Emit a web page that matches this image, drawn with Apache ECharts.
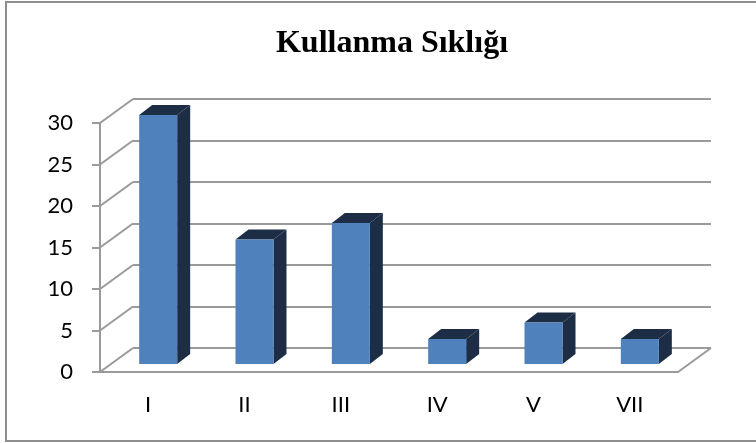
<!DOCTYPE html>
<html>
<head>
<meta charset="utf-8">
<script src="https://cdn.jsdelivr.net/npm/echarts@6/dist/echarts.min.js"></script>
<style>
  html, body { margin: 0; padding: 0; background: #fff; }
  #main { width: 756px; height: 443px; }
</style>
</head>
<body>
<div id="main"></div>
<script>
const categories = ['I', 'II', 'III', 'IV', 'V', 'VII'];
const values = [30, 15, 17, 3, 5, 3];
const tickValues = [0, 5, 10, 15, 20, 25, 30];

// depth of the 3d box (back wall offset) and bar placement inside it
const DX = 33, DY = -24;
const BAR_OFF_X = 10, BAR_OFF_Y = -8;
const BAR_DX = 13, BAR_DY = -10;
const BAR_W = 38;
const lineColor = '#9a9a9a';

var myChart = echarts.init(document.getElementById('main'));

function wallItem(params, api)
{
    var v = api.value(0);
    var cs = params.coordSys;
    var p = api.coord([categories[0], v]);
    var y = p[1];
    var children = [{
        type: 'line',
        shape: { x1: cs.x, y1: y, x2: cs.x + DX, y2: y + DY },
        style: { stroke: lineColor, lineWidth: 2 }
    }];
    if (v === 0) {
        // right edge of the floor
        children.push({
            type: 'line',
            shape: { x1: cs.x + cs.width, y1: y, x2: cs.x + cs.width + DX, y2: y + DY },
            style: { stroke: lineColor, lineWidth: 2 }
        });
    }
    return { type: 'group', children: children };
}

function barItem(params, api)
{
    var cat = api.value(0);
    var top = api.coord([cat, api.value(1)]);
    var base = api.coord([cat, 0]);
    var x0 = top[0] - BAR_W / 2 + BAR_OFF_X;
    var x1 = x0 + BAR_W;
    var yt = top[1] + BAR_OFF_Y;
    var yb = base[1] + BAR_OFF_Y;
    var dark = '#1d2d45';
    return {
        type: 'group',
        children: [
            {
                type: 'polygon',
                shape: { points: [[x1, yt], [x1 + BAR_DX, yt + BAR_DY], [x1 + BAR_DX, yb + BAR_DY], [x1, yb]] },
                style: { fill: dark }
            },
            {
                type: 'polygon',
                shape: { points: [[x0, yt], [x0 + BAR_DX, yt + BAR_DY], [x1 + BAR_DX, yt + BAR_DY], [x1, yt]] },
                style: { fill: dark }
            },
            {
                type: 'rect',
                shape: { x: x0, y: yt, width: BAR_W, height: yb - yt },
                style: { fill: '#4f81bd' }
            }
        ]
    };
}

var option = {
    animation: false,
    textStyle: { fontFamily: 'Lato' },
    title: {
        text: 'Kullanma Sıklığı',
        left: 387,
        textAlign: 'center',
        top: 23,
        textStyle: {
            fontFamily: 'Liberation Serif',
            fontWeight: 'bold',
            fontSize: 32,
            color: '#000'
        }
    },
    graphic: [{
        type: 'rect',
        shape: { x: 6, y: 2, width: 770, height: 439 },
        style: { fill: null, stroke: '#8e8e8e', lineWidth: 2 },
        silent: true
    }],
    grid: [
        { left: 100, right: 78, top: 123, bottom: 71 },
        { left: 100 + DX, right: 78 - DX, top: 123 + DY, bottom: 71 - DY }
    ],
    xAxis: [
        {
            type: 'category',
            gridIndex: 0,
            data: categories,
            axisLine: { lineStyle: { color: lineColor, width: 2 } },
            axisTick: { length: 7, lineStyle: { color: lineColor, width: 2 } },
            axisLabel: { margin: 22, fontSize: 22, color: '#000', fontFamily: 'Lato' }
        },
        {
            type: 'category',
            gridIndex: 1,
            data: categories,
            show: false
        }
    ],
    yAxis: [
        {
            type: 'value',
            gridIndex: 0,
            min: 0,
            max: 30,
            interval: 5,
            axisLine: { show: true, lineStyle: { color: lineColor, width: 2 } },
            axisTick: { show: true, length: 8, lineStyle: { color: lineColor, width: 2 } },
            axisLabel: { margin: 27, fontSize: 22, color: '#000', fontFamily: 'Lato' },
            splitLine: { show: false }
        },
        {
            type: 'value',
            gridIndex: 1,
            min: 0,
            max: 30,
            interval: 5,
            axisLine: { show: false },
            axisTick: { show: false },
            axisLabel: { show: false },
            splitLine: { show: true, lineStyle: { color: lineColor, width: 2 } }
        }
    ],
    series: [
        {
            type: 'custom',
            xAxisIndex: 0,
            yAxisIndex: 0,
            renderItem: wallItem,
            data: tickValues.map(function (v) { return [v]; }),
            encode: { y: 0 },
            z: 1,
            silent: true
        },
        {
            type: 'custom',
            xAxisIndex: 0,
            yAxisIndex: 0,
            renderItem: barItem,
            data: categories.map(function (c, i) { return [i, values[i]]; }),
            encode: { x: 0, y: 1 },
            z: 5
        }
    ]
};
myChart.setOption(option);
</script>
</body>
</html>
